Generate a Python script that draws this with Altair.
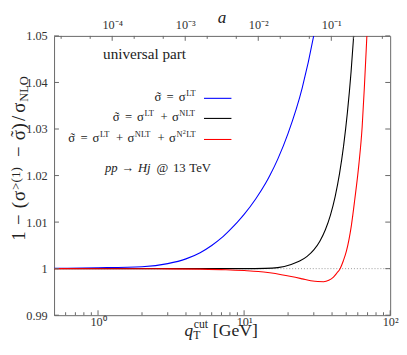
import altair as alt
import pandas as pd

SERIF = "Liberation Serif"

# ---------------- data ----------------
series_colors = ["#0000ff", "#000000", "#ff0000"]

# sigma~ = sigma^LT
q_lt = [0.5, 1.0, 2.0, 3.0, 4.0, 5.0, 6.0, 7.0, 8.0, 9.0, 10.0, 12.0, 14.0, 15.0, 17.0, 20.0, 25.0, 30.0, 32.0]
v_lt = [1.00008, 1.000185, 1.000425, 1.00108, 1.0021, 1.00343, 1.00498, 1.0066, 1.00834, 1.0100, 1.01165,
        1.01496, 1.01827, 1.0200, 1.02353, 1.02907, 1.03885, 1.05015, 1.0551]

# sigma~ = sigma^LT + sigma^NLT
q_nlt = [0.5, 2.0, 5.0, 10.0, 14.0, 17.0, 21.0, 24.0, 27.0, 30.0, 33.0, 36.0, 39.0, 42.0, 45.0, 48.0, 51.0,
         54.0, 57.0, 59.0]
v_nlt = [1.0, 1.0, 1.0, 1.0, 1.00005, 1.00022, 1.0009, 1.00163, 1.00265, 1.00403, 1.0059, 1.00836, 1.01151,
         1.01549, 1.0204, 1.02642, 1.03367, 1.04232, 1.05254, 1.0603]

# sigma~ = sigma^LT + sigma^NLT + sigma^N2LT
q_n2lt = [0.5, 2.5, 5.0, 7.5, 10.0, 12.5, 15.0, 18.0, 21.0, 25.0, 28.6, 32.0, 35.0, 38.0, 40.9, 43.0, 45.4,
          47.8, 50.2, 54.2, 57.2, 61.1, 64.3, 66.7, 69.4, 71.0]
v_n2lt = [1.0, 0.99997, 0.9999, 0.99978, 0.9996, 0.9994, 0.9991, 0.9987, 0.9983, 0.9978, 0.9974, 0.99722,
          0.9972, 0.9975, 0.9982, 0.9990, 1.0000, 1.0017, 1.0038, 1.0092, 1.0148, 1.0225, 1.0305, 1.0395,
          1.0506, 1.0570]

reference_level = [1.0]

q_domain = [0.5, 100.0]
y_domain = [0.99, 1.05]
y_ticks = [0.99, 1.00, 1.01, 1.02, 1.03, 1.04, 1.05]
q_major = [1.0, 10.0, 100.0]
q_major_labels = ["10⁰", "10¹", "10²"]
q_minor = [0.6, 0.7, 0.8, 0.9, 2, 3, 4, 5, 6, 7, 8, 9, 20, 30, 40, 50, 60, 70, 80, 90]

m_higgs = 125.0
a_domain = [(q_domain[0] / m_higgs) ** 2, (q_domain[1] / m_higgs) ** 2]
a_major = [1e-4, 1e-3, 1e-2, 1e-1]
a_major_labels = ["10⁻⁴", "10⁻³", "10⁻²", "10⁻¹"]
a_minor = [2e-5, 5e-5, 2e-4, 5e-4, 2e-3, 5e-3, 2e-2, 5e-2, 2e-1, 5e-1]

W, H = 343, 285
TXT = "#222222"
FRAME = "#666666"

# ---------------- scales / encodings ----------------
xq = alt.X("q:Q", scale=alt.Scale(type="log", domain=q_domain),
           axis=alt.Axis(values=q_major, orient="bottom", title=None, labelPadding=1, labelFlush=False,
                         labelOverlap=False,
                         labelExpr="datum.value < 5 ? '%s' : datum.value < 50 ? '%s' : '%s'" % tuple(q_major_labels)))
yv = alt.Y("v:Q", scale=alt.Scale(domain=y_domain),
           axis=alt.Axis(values=y_ticks, title=None, labelPadding=7, labelFlush=False, labelOverlap=False,
                         labelExpr="format(datum.value, '.2~f')"))


def curve(qs, vs, color):
    df = pd.DataFrame({"q": qs, "v": vs})
    return alt.Chart(df).mark_line(clip=True, strokeWidth=1.1, color=color,
                                   interpolate="monotone").encode(x=xq, y=yv)


def piece(text, x, y, size, align="left", style="normal", angle=None, color=TXT):
    kw = dict(align=align, baseline="alphabetic", font=SERIF, fontSize=size, color=color,
              fontStyle=style)
    if angle is not None:
        kw["angle"] = angle
    return alt.Chart(pd.DataFrame({"t": [text]})).mark_text(**kw).encode(
        text="t:N", x=alt.value(x), y=alt.value(y))


def compose(parts, x0, y0, em, rotate=False):
    """parts: (text, offset_em, scale, rise_em, align, style)"""
    out = []
    for text, off, scale, rise, align, style in parts:
        size = em * scale
        if rotate:
            out.append(piece(text, x0 - rise * em, y0 - off * em, size, align, style, angle=270))
        else:
            out.append(piece(text, x0 + off * em, y0 - rise * em, size, align, style))
    return out


dotted = alt.Chart(pd.DataFrame({"v": reference_level})).mark_rule(
    color="#999999", strokeWidth=1, strokeDash=[1, 2]).encode(y=yv)

curves = [curve(q_lt, v_lt, series_colors[0]),
          curve(q_nlt, v_nlt, series_colors[1]),
          curve(q_n2lt, v_n2lt, series_colors[2])]

# inward ticks
yt = pd.DataFrame({"v": y_ticks})
left_ticks = alt.Chart(yt).mark_rule(color=FRAME).encode(y=yv, x=alt.value(0), x2=alt.value(5))
right_ticks = alt.Chart(yt).mark_rule(color=FRAME).encode(y=yv, x=alt.value(W - 5), x2=alt.value(W))
bot_major = alt.Chart(pd.DataFrame({"q": q_major})).mark_rule(color=FRAME).encode(
    x=xq, y=alt.value(H - 5), y2=alt.value(H))
bot_minor = alt.Chart(pd.DataFrame({"q": q_minor})).mark_rule(color=FRAME).encode(
    x=xq, y=alt.value(H - 3), y2=alt.value(H))

# ---------------- legend (math typeset piecewise) ----------------
EM = 13.0
row3 = [
    ("σ", 0.0, 1, 0, "left", "normal"),
    ("˜", 0.33, 1, 0.02, "center", "normal"),
    ("=", 1.238, 1, 0, "center", "normal"),
    ("σ", 1.905, 1, 0, "left", "normal"),
    ("LT", 2.49, 0.66, 0.36, "left", "normal"),
    ("+", 4.03, 1, 0, "center", "normal"),
    ("σ", 4.641, 1, 0, "left", "normal"),
    ("NLT", 5.226, 0.66, 0.36, "left", "normal"),
    ("+", 7.291, 1, 0, "center", "normal"),
    ("σ", 7.902, 1, 0, "left", "normal"),
    ("N", 8.487, 0.66, 0.36, "left", "normal"),
    ("2", 8.99, 0.48, 0.62, "left", "normal"),
    ("LT", 9.25, 0.66, 0.36, "left", "normal"),
]
row_len = [5, 8, 13]
row_width = [3.43, 6.70, 10.19]
legend_line_y = [63.7, 84.2, 105.7]
RIGHT = 147
legend_layers = []
for n, wem, col, ly in zip(row_len, row_width, series_colors, legend_line_y):
    legend_layers += compose(row3[:n], RIGHT - wem * EM, ly + 2.5, EM)
    legend_layers.append(alt.Chart(pd.DataFrame({"s": [col]})).mark_rule(color=col, strokeWidth=1.1).encode(
        x=alt.value(153), x2=alt.value(181), y=alt.value(ly)))

process = [
    ("pp", 0.0, 1, 0, "left", "italic"),
    ("→", 1.784, 1, 0, "center", "normal"),
    ("Hj", 2.58, 1, 0, "left", "italic"),
    ("@", 4.05, 1, 0, "left", "normal"),
    ("13", 5.33, 1, 0, "left", "normal"),
    ("TeV", 6.62, 1, 0, "left", "normal"),
]

texts = [piece("universal part", 50, 24, 15.5)]
texts += compose(process, 52, 139, EM)
# x title  q_T^cut [GeV]
texts += [
    piece("q", 133, 306, 17.5, style="italic"),
    piece("cut", 142.5, 298.5, 12),
    piece("T", 142, 309.5, 12),
    piece("[GeV]", 162, 306, 18),
    piece("a", 167, -13, 17.5, style="italic"),
]

# y title: 1 − (σ^{>(1)} − σ̃)/σ_NLO   (rotated, reading upward)
YEM = 19.2
ytitle_parts = [
    ("1", 0.25, 1, 0, "center", "normal"),
    ("−", 1.111, 1, 0, "center", "normal"),
    ("(", 1.722, 1, 0, "left", "normal"),
    ("σ", 2.111, 1, 0, "left", "normal"),
    (">(1)", 2.70, 0.7, 0.26, "left", "normal"),
    ("−", 4.732, 1, 0, "center", "normal"),
    ("σ", 5.343, 1, 0, "left", "normal"),
    ("˜", 5.68, 1, 0.02, "center", "normal"),
    (")", 5.914, 1, 0, "left", "normal"),
    ("/", 6.36, 1, 0, "left", "normal"),
    ("σ", 6.803, 1, 0, "left", "normal"),
    ("NLO", 7.39, 0.66, -0.2, "left", "normal"),
]
ytitle = compose(ytitle_parts, -30, 209, YEM, rotate=True)

group_q = alt.layer(dotted, *curves, left_ticks, right_ticks, bot_major, bot_minor,
                    *legend_layers, *texts, *ytitle)

# top axis: a = (qT / mH)^2
xa = alt.X("a:Q", scale=alt.Scale(type="log", domain=a_domain),
           axis=alt.Axis(orient="top", values=a_major, title=None, labelPadding=5, labelFlush=False,
                         labelOverlap=False,
                         labelExpr="%s[round(log(datum.value)/LN10) + 4]" % str(a_major_labels)))
top_major = alt.Chart(pd.DataFrame({"a": a_major})).mark_rule(color=FRAME).encode(
    x=xa, y=alt.value(0), y2=alt.value(5))
top_minor = alt.Chart(pd.DataFrame({"a": a_minor})).mark_rule(color=FRAME).encode(
    x=xa, y=alt.value(0), y2=alt.value(3))
group_a = alt.layer(top_major, top_minor)

chart = alt.layer(group_q, group_a).resolve_scale(x="independent").properties(
    width=W, height=H,
    padding={"left": 47, "top": 25, "right": 9, "bottom": 30},
    autosize=alt.AutoSizeParams(type="none"),
).configure_view(stroke=FRAME, strokeWidth=1).configure_axis(
    domain=False, ticks=False, grid=False, labelFont=SERIF, labelFontSize=12.5,
    labelColor="#333333",
)

chart.save("out.html", embed_options={"renderer": "svg", "actions": False})
